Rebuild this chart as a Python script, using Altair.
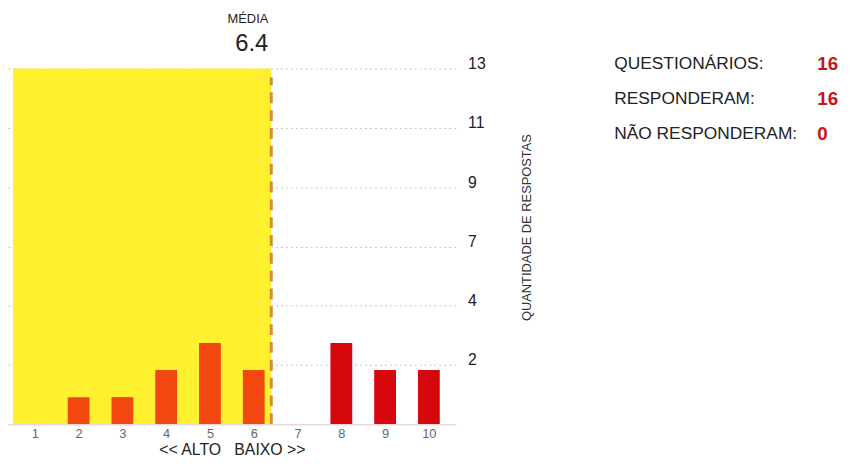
import altair as alt
import pandas as pd

# ---- data ----
notas = [1, 2, 3, 4, 5, 6, 7, 8, 9, 10]
respostas = [0, 1, 1, 2, 3, 2, 0, 3, 2, 2]
media = 6.4
media_label = "6.4"
grid_pos = [2.19, 4.38, 6.57, 8.76, 10.95, 13.14]
grid_labels = ["2", "4", "7", "9", "11", "13"]
y_max = 13.14
resumo_labels = ["QUESTIONÁRIOS:", "RESPONDERAM:", "NÃO RESPONDERAM:"]
resumo_values = ["16", "16", "0"]

FONT = "Liberation Sans"
W, H = 452, 359

df = pd.DataFrame({"nota": notas, "respostas": respostas})
df["lado"] = ["alto" if n <= media else "baixo" for n in notas]

xs = alt.Scale(domain=[0.5, 10.5], nice=False, zero=False)
ys = alt.Scale(domain=[0, y_max], nice=False)

label_expr = " : ".join(
    f"abs(datum.value - {p}) < 0.01 ? '{l}'" for p, l in zip(grid_pos, grid_labels)
) + " : ''"

band_df = pd.DataFrame({"x": [0.5], "x2": [media], "y": [0.0], "y2": [y_max]})
band = alt.Chart(band_df).mark_rect(color="#FFF020", opacity=0.93).encode(
    x=alt.X("x:Q", scale=xs,
            axis=alt.Axis(values=notas, format="d", labelFontSize=13, labelColor="#666",
                          ticks=False, domain=True, domainColor="#ead8d8", domainWidth=1.5,
                          grid=False, labelPadding=3, zindex=1,
                          title="<< ALTO\u00a0\u00a0\u00a0BAIXO >>", titleFontSize=16,
                          titleFontWeight="normal", titleColor="#222", titlePadding=2)),
    x2="x2:Q",
    y=alt.Y("y:Q", scale=ys,
            axis=alt.Axis(orient="right", values=grid_pos, labelExpr=label_expr,
                          grid=True, gridDash=[2, 3], gridColor="#c4c4c4", gridWidth=1,
                          ticks=False, domain=False, labelPadding=12, labelFontSize=16,
                          labelColor="#222", labelBaseline="alphabetic", labelAlign="left",
                          title="QUANTIDADE DE RESPOSTAS", titleAngle=270, titleFontSize=13,
                          titleFontWeight="normal", titleColor="#333", titleX=71, titleY=160,
                          titleAlign="center", titleBaseline="middle")),
    y2="y2:Q",
)

bars = alt.Chart(df).mark_bar(size=22).encode(
    x=alt.X("nota:Q", scale=xs),
    y=alt.Y("respostas:Q", scale=ys),
    color=alt.Color("lado:N", scale=alt.Scale(domain=["alto", "baixo"],
                                              range=["#F2470E", "#D6070D"]), legend=None),
)

mean_df = pd.DataFrame({"x": [media], "y": [0.0], "y2": [y_max * 0.975],
                        "t": [media_label], "m": ["MÉDIA"]})
mean_rule = alt.Chart(mean_df).mark_rule(color="#DC8A2C", strokeWidth=3,
                                         strokeDash=[11, 7]).encode(
    x=alt.X("x:Q", scale=xs), y=alt.Y("y:Q", scale=ys), y2="y2:Q")

mean_title = alt.Chart(mean_df).mark_text(align="right", baseline="middle", dx=-3,
                                          fontSize=13, color="#222", font=FONT).encode(
    x=alt.X("x:Q", scale=xs), y=alt.value(-50), text="m:N")
mean_val = alt.Chart(mean_df).mark_text(align="right", baseline="middle", dx=-3,
                                        fontSize=24, color="#222", font=FONT).encode(
    x=alt.X("x:Q", scale=xs), y=alt.value(-25), text="t:N")

layers = [band, bars, mean_rule, mean_title, mean_val]
row_y = [-5, 31, 66]
for lab, val, yy in zip(resumo_labels, resumo_values, row_y):
    rdf = pd.DataFrame({"lab": [lab], "val": [val]})
    layers.append(alt.Chart(rdf).mark_text(align="left", baseline="middle", fontSize=17.5,
                                           color="#222", font=FONT).encode(
        x=alt.value(612), y=alt.value(yy), text="lab:N"))
    layers.append(alt.Chart(rdf).mark_text(align="left", baseline="middle", fontSize=19,
                                           fontWeight="bold", color="#C8141C", font=FONT).encode(
        x=alt.value(817), y=alt.value(yy), text="val:N"))

chart = alt.layer(*layers).properties(
    width=W, height=H,
    autosize=alt.AutoSizeParams(type="none"),
    padding={"left": 0, "top": 59, "right": 394, "bottom": 36},
).configure(font=FONT).configure_view(stroke=None)

chart.save("out.html", embed_options={"renderer": "svg", "actions": False})
